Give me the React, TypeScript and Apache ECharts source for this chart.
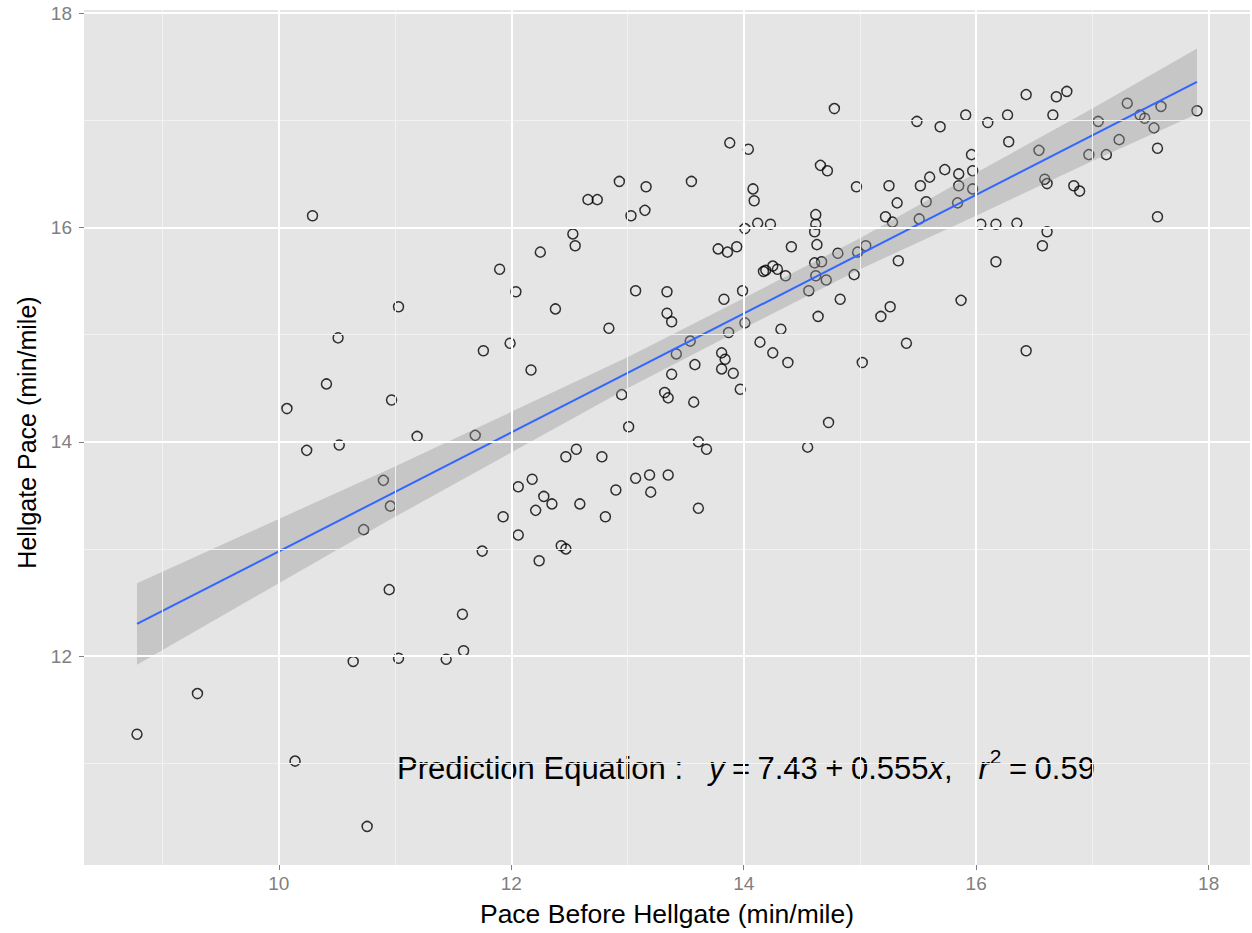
import React, { useEffect, useRef } from "react";
import * as echarts from "echarts";

// Pace before Hellgate (min/mile)
const paceBefore = [
  8.78, 9.3, 10.07, 10.14, 10.24, 10.29, 10.41, 10.51, 10.52, 10.64,
  10.73, 10.76, 10.9, 10.95, 10.96, 10.97, 11.03, 11.03, 11.19, 11.44,
  11.58, 11.59, 11.69, 11.75, 11.76, 11.9, 11.93, 11.99, 12.04, 12.06,
  12.06, 12.17, 12.18, 12.21, 12.24, 12.25, 12.28, 12.35, 12.38, 12.43,
  12.47, 12.47, 12.53, 12.55, 12.56, 12.59, 12.66, 12.74, 12.78, 12.81,
  12.84, 12.9, 12.93, 12.95, 13.01, 13.03, 13.07, 13.07, 13.15, 13.16,
  13.19, 13.2, 13.34, 13.34, 13.32, 13.35, 13.35, 13.38, 13.38, 13.42,
  13.54, 13.55, 13.58, 13.57, 13.61, 13.61, 13.68, 13.78, 13.81, 13.83,
  13.81, 13.84, 13.86, 13.87, 13.91, 13.94, 13.97, 13.99, 14.01, 14.01,
  13.88, 14.04, 14.08, 14.09, 14.12, 14.14, 14.17, 14.19, 14.23, 14.25,
  14.25, 14.29, 14.32, 14.36, 14.38, 14.41, 14.78, 14.55, 14.56, 14.62,
  14.62, 14.61, 14.63, 14.61, 14.62, 14.64, 14.66, 14.67, 14.71, 14.72,
  14.73, 14.81, 14.83, 14.95, 14.97, 14.98, 15.02, 15.05, 15.18, 15.25,
  15.22, 15.26, 15.28, 15.32, 15.33, 15.4, 15.49, 15.52, 15.6, 15.51,
  15.57, 15.69, 15.91, 16.1, 16.27, 16.43, 16.69, 16.78, 16.66, 16.28,
  15.96, 15.73, 15.85, 15.97, 15.85, 15.97, 15.84, 16.54, 16.59, 16.61,
  16.84, 16.89, 16.97, 17.12, 17.05, 17.23, 17.3, 17.41, 17.45, 17.59,
  17.53, 17.56, 17.9, 16.04, 16.17, 16.35, 16.61, 16.57, 16.17, 17.56,
  15.87, 16.43,
];

// Hellgate pace (min/mile)
const hellgatePace = [
  11.27, 11.65, 14.31, 11.02, 13.92, 16.11, 14.54, 14.97, 13.97, 11.95,
  13.18, 10.41, 13.64, 12.62, 13.4, 14.39, 15.26, 11.98, 14.05, 11.97,
  12.39, 12.05, 14.06, 12.98, 14.85, 15.61, 13.3, 14.92, 15.4, 13.13,
  13.58, 14.67, 13.65, 13.36, 12.89, 15.77, 13.49, 13.42, 15.24, 13.03,
  13.86, 13.0, 15.94, 15.83, 13.93, 13.42, 16.26, 16.26, 13.86, 13.3,
  15.06, 13.55, 16.43, 14.44, 14.14, 16.11, 15.41, 13.66, 16.16, 16.38,
  13.69, 13.53, 15.2, 15.4, 14.46, 14.41, 13.69, 14.63, 15.12, 14.82,
  14.94, 16.43, 14.72, 14.37, 14.0, 13.38, 13.93, 15.8, 14.83, 15.33,
  14.68, 14.77, 15.77, 15.02, 14.64, 15.82, 14.49, 15.41, 15.99, 15.11,
  16.79, 16.73, 16.36, 16.25, 16.04, 14.93, 15.59, 15.6, 16.03, 15.64,
  14.83, 15.61, 15.05, 15.55, 14.74, 15.82, 17.11, 13.95, 15.41, 16.12,
  16.03, 15.96, 15.84, 15.67, 15.55, 15.17, 16.58, 15.68, 15.51, 16.53,
  14.18, 15.76, 15.33, 15.56, 16.38, 15.77, 14.74, 15.83, 15.17, 16.39,
  16.1, 15.26, 16.05, 16.23, 15.69, 14.92, 16.99, 16.39, 16.47, 16.08,
  16.24, 16.94, 17.05, 16.98, 17.05, 17.24, 17.22, 17.27, 17.05, 16.8,
  16.68, 16.54, 16.5, 16.53, 16.39, 16.36, 16.23, 16.72, 16.45, 16.41,
  16.39, 16.34, 16.68, 16.68, 16.99, 16.82, 17.16, 17.05, 17.02, 17.13,
  16.93, 16.74, 17.09, 16.03, 16.03, 16.04, 15.96, 15.83, 15.68, 16.1,
  15.32, 14.85,
];

// Fitted line end points and confidence band
const fitX = [8.78, 17.9];
const fitY = [12.3, 17.36];
const bandX = [8.78, 10, 11, 12, 13, 14, 15, 16, 17, 17.9];
const bandLow = [11.92, 12.68, 13.3, 13.9, 14.5, 15.06, 15.61, 16.11, 16.62, 17.06];
const bandHigh = [12.68, 13.28, 13.77, 14.28, 14.79, 15.34, 15.9, 16.51, 17.11, 17.67];

const xTicks = [10, 12, 14, 16, 18];
const xMinor = [9, 11, 13, 15, 17];
const yTicks = [12, 14, 16, 18];
const yMinor = [11, 13, 15, 17];

const FONT = "'Liberation Sans', Arial, Helvetica, sans-serif";
const TICK_COLOR = "#7F7F7F";

export default function App() {
  const ref = useRef<HTMLDivElement>(null);

  useEffect(() => {
    if (!ref.current) return;
    const chart = echarts.init(ref.current, null, { renderer: "svg" });

    const points = paceBefore.map((x, i) => [x, hellgatePace[i]]);
    const band = bandX.map((x, i) => [x, bandLow[i], bandHigh[i]]);
    const fit = fitX.map((x, i) => [x, fitY[i]]);

    const gridLines = [
      ...xMinor.map((v) => ({ xAxis: v, lineStyle: { color: "#F2F2F2", width: 1, type: "solid" } })),
      ...yMinor.map((v) => ({ yAxis: v, lineStyle: { color: "#F2F2F2", width: 1, type: "solid" } })),
      ...xTicks.map((v) => ({ xAxis: v, lineStyle: { color: "#FFFFFF", width: 2, type: "solid" } })),
      ...yTicks.map((v) => ({ yAxis: v, lineStyle: { color: "#FFFFFF", width: 2, type: "solid" } })),
    ];

    const tok = { fontFamily: FONT, fill: "#000", stroke: "none", lineWidth: 0 };

    const option: any = {
      animation: false,
      backgroundColor: "#FFFFFF",
      textStyle: { fontFamily: FONT },
      grid: {
        left: 84,
        right: 2,
        top: 10,
        bottom: 68,
        show: true,
        backgroundColor: "#E5E5E5",
        borderWidth: 0,
      },
      xAxis: {
        type: "value",
        min: 8.324,
        max: 18.356,
        name: "Pace Before Hellgate (min/mile)",
        nameLocation: "middle",
        nameGap: 35,
        nameTextStyle: { color: "#000", fontSize: 26.5, fontFamily: FONT },
        axisLine: { show: false },
        splitLine: { show: false },
        axisTick: {
          show: true,
          length: 5,
          customValues: xTicks,
          lineStyle: { color: TICK_COLOR, width: 1 },
        },
        axisLabel: {
          customValues: xTicks,
          color: TICK_COLOR,
          fontSize: 19,
          fontFamily: FONT,
          margin: 9,
        },
      },
      yAxis: {
        type: "value",
        min: 10.05,
        max: 18.03,
        name: "Hellgate Pace (min/mile)",
        nameLocation: "middle",
        nameGap: 43,
        nameRotate: 90,
        nameTextStyle: { color: "#000", fontSize: 25, fontFamily: FONT, padding: [0, 0, 0, 10] },
        axisLine: { show: false },
        splitLine: { show: false },
        axisTick: {
          show: true,
          length: 5,
          customValues: yTicks,
          lineStyle: { color: TICK_COLOR, width: 1 },
        },
        axisLabel: {
          customValues: yTicks,
          color: TICK_COLOR,
          fontSize: 19,
          fontFamily: FONT,
          margin: 12,
        },
      },
      series: [
        {
          type: "line",
          name: "grid",
          data: [],
          silent: true,
          z: 1,
          markLine: {
            silent: true,
            symbol: ["none", "none"],
            label: { show: false },
            emphasis: { disabled: true },
            animation: false,
            data: gridLines,
          },
        },
        {
          type: "scatter",
          name: "runners",
          data: points,
          z: 2,
          symbol: "circle",
          symbolSize: 10,
          itemStyle: { color: "rgba(0,0,0,0)", borderColor: "#000000", borderWidth: 1.5 },
          emphasis: { disabled: true },
        },
        {
          type: "custom",
          name: "band",
          data: band,
          z: 3,
          silent: true,
          encode: { x: 0, y: [1, 2] },
          renderItem: (params: any, api: any) => {
            if (params.dataIndex !== 0) return { type: "group", children: [] };
            const upper = bandX.map((x, i) => api.coord([x, bandHigh[i]]));
            const lower = bandX.map((x, i) => api.coord([x, bandLow[i]])).reverse();
            return {
              type: "polygon",
              shape: { points: [...upper, ...lower] },
              style: { fill: "rgba(153,153,153,0.4)", stroke: "none" },
            };
          },
        },
        {
          type: "line",
          name: "fit",
          data: fit,
          z: 4,
          symbol: "none",
          silent: true,
          lineStyle: { color: "#3366FF", width: 2 },
        },
      ],
      graphic: [
        {
          type: "text",
          x: 397,
          y: 768,
          silent: true,
          style: {
            text:
              "{n|Prediction Equation :   }{i|y}{sp| }{n|=}{sp| }{n|7.43}{sp| }{n|+}{sp| }{n|0.555}{i|x}{n|,   }{i|r}{s|2}{sp| }{n|=}{sp| }{n|0.59}",
            verticalAlign: "middle",
            align: "left",
            fill: "#000",
            stroke: "none",
            lineWidth: 0,
            rich: {
              n: { ...tok, fontSize: 31 },
              i: { ...tok, fontSize: 31, fontStyle: "italic" },
              sp: { ...tok, fontSize: 27 },
              s: { ...tok, fontSize: 21, verticalAlign: "top", padding: [0, 0, 24, 1] },
            },
          },
        },
      ],
    };

    chart.setOption(option);
    return () => chart.dispose();
  }, []);

  return (
    <div
      ref={ref}
      style={{ position: "absolute", left: 0, top: 0, width: 1252, height: 933 }}
    />
  );
}
